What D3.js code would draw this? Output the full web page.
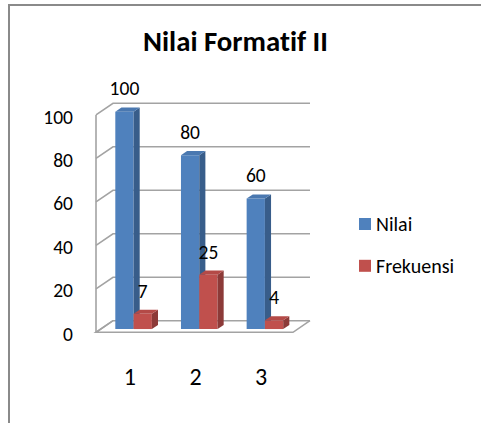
<!DOCTYPE html>
<html>
<head>
<meta charset="utf-8">
<script src="https://cdn.jsdelivr.net/npm/d3@7"></script>
<style>
  html, body { margin: 0; padding: 0; background: #fff; }
  svg { display: block; }
  text { font-family: Carlito, Calibri, Lato, sans-serif; fill: #000; font-variant-ligatures: none; }
</style>
</head>
<body>
<svg id="chart" width="481" height="423"></svg>
<script>
// ---- data ----
const title = "Nilai Formatif II";
const categories = ["1", "2", "3"];
const seriesNames = ["Nilai", "Frekuensi"];
const nilaiValues = [100, 80, 60];
const frekuensiValues = [7, 25, 4];
const yTicks = [0, 20, 40, 60, 80, 100];
const seriesColors = {
  Nilai: { front: "#4f81bd", side: "#385d8a", top: "#4a78b0" },
  Frekuensi: { front: "#c0504d", side: "#8c3a38", top: "#b44a47" }
};

// ---- layout ----
const svg = d3.select("#chart");
const X0 = 96, Y0 = 332.3;        // front-left corner of floor
const W = 197;                     // front width of plot
const DX = 17, DY = -11.6;         // wall depth vector
const dFront = 0.28, dBack = 0.64; // bar depth range

const y = d3.scaleLinear().domain([0, 100]).range([0, 217.4]);
const x = d3.scaleBand().domain(categories).range([0, W]).paddingInner(0.443).paddingOuter(0.2215);
const xs = d3.scaleBand().domain(seriesNames).range([0, x.bandwidth()]);

function P(xu, v, d) { return [X0 + xu + d * DX, Y0 - y(v) + d * DY]; }
const line = d3.line();

// frame
svg.append("rect").attr("x", 9).attr("y", 5).attr("width", 600).attr("height", 600)
  .attr("fill", "none").attr("stroke", "#8a8a8a").attr("stroke-width", 2);

// title
const t = svg.append("text").attr("x", 235.5).attr("y", 50.7).attr("text-anchor", "middle")
  .attr("font-weight", "bold").attr("font-size", 20).text(title);
(function fit(sel, target) {
  const w = sel.node().getComputedTextLength();
  if (w > 0) sel.attr("font-size", 20 * target / w);
})(t, 185);

// walls & gridlines
const gridColor = "#a3a3a3";
yTicks.forEach(v => {
  svg.append("path").attr("d", line([P(0, v, 0), P(0, v, 1), P(W, v, 1)]))
    .attr("fill", "none").attr("stroke", gridColor).attr("stroke-width", 1.6);
});
svg.append("path").attr("d", line([P(0, 0, 1), P(0, 0, 0), P(W, 0, 0), P(W, 0, 1)]))
  .attr("fill", "none").attr("stroke", gridColor).attr("stroke-width", 1.6);
svg.append("path").attr("d", line([P(0, 0, 0), P(0, 100, 0)]))
  .attr("fill", "none").attr("stroke", gridColor).attr("stroke-width", 1.6);

// y tick labels
svg.selectAll(".ytick").data(yTicks).join("text").attr("class", "ytick")
  .attr("x", 73).attr("y", d => P(0, d, 0)[1] + 1.8).attr("dy", "0.35em")
  .attr("text-anchor", "end").attr("font-size", 19.5).text(d => d);

// bars
const seriesValues = { Nilai: nilaiValues, Frekuensi: frekuensiValues };
categories.forEach((c, i) => {
  seriesNames.forEach(s => {
    const v = seriesValues[s][i];
    const x1 = x(c) + xs(s), x2 = x1 + xs.bandwidth();
    const col = seriesColors[s];
    const g = svg.append("g");
    g.append("path").attr("d", line([P(x1, 0, dFront), P(x2, 0, dFront), P(x2, v, dFront), P(x1, v, dFront)]) + "Z")
      .attr("fill", col.front);
    g.append("path").attr("d", line([P(x2, 0, dFront), P(x2, v, dFront), P(x2, v, dBack), P(x2, 0, dBack)]) + "Z")
      .attr("fill", col.side);
    g.append("path").attr("d", line([P(x1, v, dFront), P(x2, v, dFront), P(x2, v, dBack), P(x1, v, dBack)]) + "Z")
      .attr("fill", col.top);
    const tp = P((x1 + x2) / 2, v, dFront);
    svg.append("text").attr("x", tp[0]).attr("y", tp[1] - 23).attr("dy", "0.35em")
      .attr("text-anchor", "middle").attr("font-size", 19.5).text(v);
  });
});

// x labels
svg.selectAll(".xlab").data(categories).join("text").attr("class", "xlab")
  .attr("x", d => P(x(d) + x.bandwidth() / 2, 0, 0)[0] + 1).attr("y", 376.7).attr("dy", "0.35em")
  .attr("text-anchor", "middle").attr("font-size", 24).text(d => d);

// legend
const legY = [224, 265.8];
seriesNames.forEach((s, i) => {
  svg.append("rect").attr("x", 359).attr("y", legY[i] - 6).attr("width", 12).attr("height", 12)
    .attr("fill", seriesColors[s].front);
  svg.append("text").attr("x", 376).attr("y", legY[i]).attr("dy", "0.35em")
    .attr("font-size", 20).text(s);
});
</script>
</body>
</html>
